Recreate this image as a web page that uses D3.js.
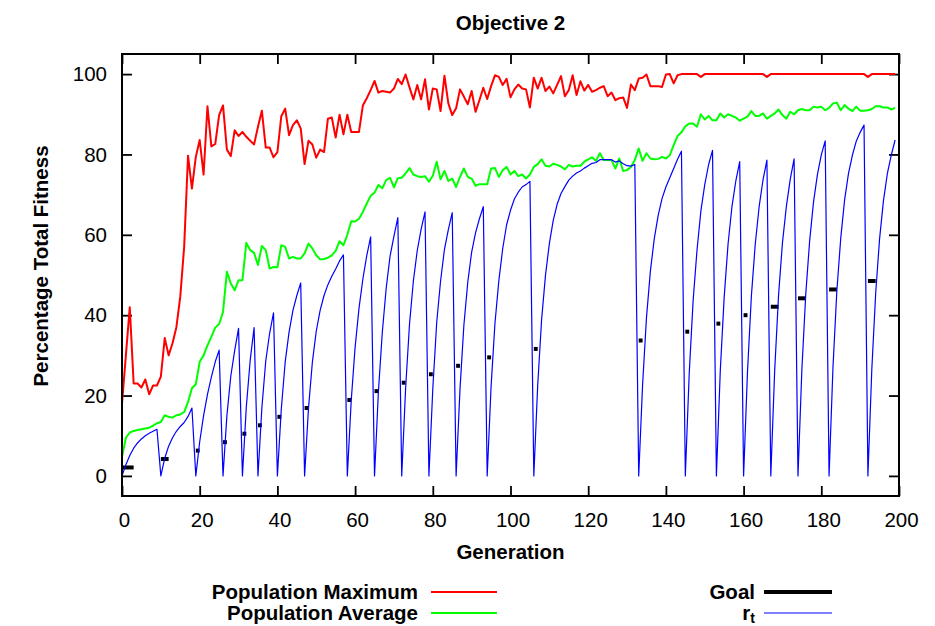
<!DOCTYPE html>
<html>
<head>
<meta charset="utf-8">
<script src="https://cdn.jsdelivr.net/npm/d3@7"></script>
<style>
  html, body { margin: 0; padding: 0; background: #fff; }
  svg { display: block; font-family: "Liberation Sans", Arial, Helvetica, sans-serif; }
</style>
</head>
<body>
<svg id="chart" width="935" height="626"></svg>
<script>
// ---------------- data ----------------
const title = "Objective 2";
const xLabel = "Generation";
const yLabel = "Percentage Total Fitness";
const xTicks = [0, 20, 40, 60, 80, 100, 120, 140, 160, 180, 200];
const yTicks = [0, 20, 40, 60, 80, 100];

const popMax = [
  18, 30, 42, 23, 23, 22, 24, 20.3, 22.5, 22.5,
  24.7, 34.3, 30, 33, 37, 44.6, 57, 79.7, 71.5, 79.4,
  83.6, 75, 92, 82, 82.6, 89.8, 92.2, 81.2, 79.6, 86,
  84.6, 85.6, 84.4, 83.4, 82.5, 86.9, 90.9, 81.7, 81.7, 79.3,
  80.6, 89.5, 91.4, 84.8, 87.3, 88.5, 86.5, 77.6, 83.4, 82.5,
  79.2, 81.2, 80.6, 88.9, 89.2, 84.2, 89.9, 85, 89.9, 85.6,
  85.6, 85.6, 92.2, 94, 96, 98.3, 95.4, 95.8, 95.6, 95.4,
  96.4, 98.8, 97.5, 99.9, 96.7, 93.7, 97.3, 93.7, 98.7, 91.2,
  96.4, 96.2, 90.8, 99.6, 92.7, 89.8, 91.5, 96.2, 94.4, 92.5,
  95.8, 90.6, 93.5, 96.6, 93.8, 97, 99.7, 99.3, 97.3, 98.8,
  94.2, 96.2, 97.4, 96.4, 96.2, 91.7, 99.1, 96.4, 99.1, 95.8,
  96.9, 95.2, 97.3, 99.5, 94.5, 96, 99.7, 94.8, 98.2, 95.9,
  97.3, 95.6, 96, 96.6, 97, 94.5, 95.4, 93.5, 94, 94.2,
  91.6, 97.4, 96, 98.9, 99.1, 99.9, 97, 97, 97, 96.8,
  99.9, 100, 97.7, 99.7, 100, 100, 100, 100, 100, 99.3,
  100, 100, 100, 100, 100, 100, 100, 100, 100, 100,
  100, 100, 100, 100, 100, 100, 99.3, 100, 100, 100,
  100, 100, 100, 100, 100, 100, 100, 100, 100, 100,
  100, 100, 100, 100, 100, 100, 100, 100, 100, 100,
  100, 100, 99.3, 100, 100, 100, 100, 100, 100, 100
];

const popAvg = [
  4.7, 9.5, 10.8, 11.2, 11.4, 11.6, 11.8, 12.0, 12.5, 13.1,
  13.4, 15.1, 14.7, 14.5, 15.1, 15.3, 15.9, 18.4, 21.8, 22.8,
  28.4, 30.0, 32.5, 34.6, 36.9, 37.8, 40.8, 50.8, 47.9, 46.2,
  48.7, 48.7, 58.0, 56.2, 55.5, 52.5, 57.2, 56.2, 51.6, 52.0,
  51.9, 57.4, 57.0, 54.1, 54.5, 54.1, 54.1, 55.4, 57.8, 56.6,
  54.9, 53.9, 54.0, 54.3, 54.9, 56.0, 58.4, 57.4, 60.0, 63.4,
  63.3, 64.0, 65.7, 67.8, 69.7, 70.5, 72.4, 71.6, 73.6, 74.2,
  71.8, 74.1, 74.2, 75.3, 76.6, 75.0, 74.6, 74.4, 74.6, 73.2,
  74.7, 78.2, 73.8, 75.9, 73.4, 74.0, 71.9, 74.4, 76.5, 74.4,
  74.0, 72.2, 72.6, 72.6, 72.6, 76.5, 76.6, 74.4, 76.1, 76.9,
  75.0, 75.9, 74.6, 75.0, 74.0, 75.0, 76.9, 77.6, 78.8, 77.2,
  77.0, 77.7, 77.4, 77.0, 76.3, 77.4, 77.0, 77.2, 77.2, 78.2,
  78.8, 79.3, 78.4, 80.3, 78.6, 78.6, 78.6, 76.5, 79.0, 75.9,
  76.1, 76.9, 78.6, 81.5, 78.4, 80.3, 79.0, 78.8, 78.9, 79.4,
  79.0, 79.8, 82.3, 84.6, 85.5, 87.0, 87.7, 87.7, 86.9, 90.0,
  88.7, 89.6, 88.5, 88.5, 90.2, 89.2, 90.0, 89.6, 89.2, 88.4,
  88.9, 89.4, 90.8, 89.6, 89.6, 90.2, 88.9, 89.6, 90.2, 91.2,
  89.8, 88.9, 90.6, 90.0, 91.0, 91.3, 91.0, 91.0, 91.9, 91.7,
  91.9, 91.0, 91.6, 92.7, 92.9, 91.0, 92.3, 91.4, 90.8, 91.9,
  90.9, 90.9, 91.0, 91.3, 92.0, 92.0, 91.7, 91.7, 91.2, 91.6
];

const rt = [
  0, 2.8, 5.1, 6.9, 8.2, 9.2, 10.0, 10.6, 11.1, 11.6,
  0, 4.4, 7.4, 9.5, 11.1, 12.3, 13.3, 14.8, 16.9, 0,
  8.5, 15.0, 20.3, 24.6, 28.4, 31.3, 0, 15.0, 24.8, 31.2,
  36.7, 0, 17.2, 28.8, 36.9, 0, 16.9, 28.6, 35.5, 40.6,
  0, 16.6, 28.3, 35.8, 41.2, 44.9, 48.0, 0, 16.8, 28.3,
  36.0, 41.2, 44.9, 47.6, 49.7, 51.5, 53.5, 55.0, 0, 18.7,
  32.0, 41.7, 49.0, 54.8, 59.5, 0, 21.0, 35.7, 46.7, 54.7,
  59.7, 64.3, 0, 21.8, 37.7, 48.5, 56.1, 61.4, 65.7, 0,
  21.7, 38.1, 48.5, 56.4, 61.3, 65.5, 0, 21.6, 37.5, 48.2,
  55.7, 60.5, 64.0, 67.0, 0, 22.2, 38.0, 48.6, 56.6, 62.5,
  66.1, 68.9, 70.6, 71.9, 72.5, 73.3, 0, 22.5, 38.8, 49.9,
  57.8, 63.6, 67.6, 70.3, 72.0, 73.6, 74.6, 75.4, 75.9, 76.6,
  77.2, 77.8, 78.0, 78.7, 78.7, 78.7, 78.7, 78.1, 78.4, 77.7,
  77.2, 77.1, 77.5, 0, 22.7, 39.4, 50.9, 59.0, 64.8, 69.0,
  71.9, 74.2, 76.5, 78.8, 80.8, 0, 25.4, 43.5, 56.1, 65.9,
  72.5, 77.5, 81.0, 0, 26.2, 44.5, 57.7, 67.0, 73.4, 78.2,
  0, 25.9, 44.7, 57.7, 67.0, 73.7, 78.6, 0, 26.2, 45.0,
  58.0, 67.0, 73.8, 78.9, 0, 26.5, 45.2, 58.5, 68.2, 75.0,
  79.9, 83.4, 0, 26.9, 46.0, 59.1, 68.7, 75.3, 79.8, 83.3,
  85.5, 87.3, 0, 26.5, 45.5, 59.0, 68.5, 75.2, 79.8, 83.6
];

// goal: short horizontal segments (start generation, end generation, value)
const goalStart = [0, 10, 19, 26, 31, 35, 40, 47, 58, 65, 72, 79, 86, 94, 106, 133, 145, 153, 160, 167, 174, 182, 192];
const goalEnd   = [3, 12, 20, 27, 32, 36, 41, 48, 59, 66, 73, 80, 87, 95, 107, 134, 146, 154, 161, 169, 176, 184, 194];
const goalValue = [2.1, 4.2, 6.3, 8.4, 10.5, 12.6, 14.7, 16.9, 18.9, 21.1, 23.2, 25.3, 27.4, 29.5, 31.6, 33.7, 35.9, 37.9, 40.0, 42.1, 44.2, 46.4, 48.5];

const legendLeft = ["Population Maximum", "Population Average"];
const legendRight = ["Goal", "r"];

// ---------------- chart ----------------
const svg = d3.select("#chart");
const W = 935, H = 626;
const m = { left: 122, right: 899, top: 54, bottom: 496 };

svg.append("rect").attr("width", W).attr("height", H).attr("fill", "#fff");

const x = d3.scaleLinear().domain([0, 200]).range([m.left, m.right]);
const y = d3.scaleLinear().domain([-5, 105]).range([m.bottom, m.top]);

const FS = 20.5;

// axes
const styleAxis = g => {
  g.select(".domain").remove();
  g.selectAll(".tick line").attr("stroke", "#000").attr("stroke-width", 1.8);
  g.selectAll(".tick text").attr("fill", "#000").attr("font-size", FS)
    .attr("font-family", "'Liberation Sans', Arial, sans-serif");
};

svg.append("g").attr("transform", `translate(0,${m.bottom})`)
  .call(d3.axisBottom(x).tickValues(xTicks).tickSizeInner(-10).tickSizeOuter(0).tickPadding(16))
  .call(styleAxis)
  .call(g => g.selectAll(".tick text").attr("dx", 2));

svg.append("g").attr("transform", `translate(0,${m.top})`)
  .call(d3.axisTop(x).tickValues(xTicks).tickSizeInner(-10).tickSizeOuter(0).tickFormat(""))
  .call(styleAxis);

svg.append("g").attr("transform", `translate(${m.left},0)`)
  .call(d3.axisLeft(y).tickValues(yTicks).tickSizeInner(-10).tickSizeOuter(0).tickPadding(15))
  .call(styleAxis);

svg.append("g").attr("transform", `translate(${m.right},0)`)
  .call(d3.axisRight(y).tickValues(yTicks).tickSizeInner(-10).tickSizeOuter(0).tickFormat(""))
  .call(styleAxis);

// series
const line = d3.line().x((d, i) => x(i)).y(d => y(d));

svg.append("path").datum(popMax).attr("d", line)
  .attr("fill", "none").attr("stroke", "#ff0000").attr("stroke-width", 2).attr("stroke-linejoin", "round");

svg.append("path").datum(popAvg).attr("d", line)
  .attr("fill", "none").attr("stroke", "#00ff00").attr("stroke-width", 2).attr("stroke-linejoin", "round");

const goals = goalStart.map((s, i) => ({ s, e: goalEnd[i], v: goalValue[i] }));
svg.append("g").selectAll("line").data(goals).join("line")
  .attr("x1", d => x(d.s)).attr("x2", d => x(d.e))
  .attr("y1", d => y(d.v)).attr("y2", d => y(d.v))
  .attr("stroke", "#000").attr("stroke-width", 4);

svg.append("path").datum(rt).attr("d", line)
  .attr("fill", "none").attr("stroke", "#0000ff").attr("stroke-width", 1.2).attr("stroke-linejoin", "round");

// frame
svg.append("rect")
  .attr("x", m.left).attr("y", m.top)
  .attr("width", m.right - m.left).attr("height", m.bottom - m.top)
  .attr("fill", "none").attr("stroke", "#000").attr("stroke-width", 2);

// titles
svg.append("text").attr("x", (m.left + m.right) / 2).attr("y", 30)
  .attr("text-anchor", "middle").attr("font-size", FS).attr("font-weight", "bold").text(title);

svg.append("text").attr("x", (m.left + m.right) / 2).attr("y", 559)
  .attr("text-anchor", "middle").attr("font-size", FS).attr("font-weight", "bold").text(xLabel);

svg.append("text").attr("transform", "translate(48,266) rotate(-90)")
  .attr("text-anchor", "middle").attr("font-size", FS).attr("font-weight", "bold").text(yLabel);

// legend
const legRows = [599, 620];
const legColors = [["#ff0000", "#00ff00"], ["#000", "#0000ff"]];
const legWidths = [[2, 2], [4, 1.2]];
const legTextX = [418, 755];
const legLineX = [[431, 497], [764, 832]];
const legendTexts = [legendLeft, legendRight];

legendTexts.forEach((col, c) => {
  col.forEach((label, r) => {
    const t = svg.append("text").attr("x", legTextX[c]).attr("y", legRows[r])
      .attr("text-anchor", "end").attr("font-size", FS).attr("font-weight", "bold");
    if (c === 1 && r === 1) {
      t.append("tspan").text(label);
      t.append("tspan").attr("dy", 3).attr("font-size", 14).text("t");
    } else {
      t.text(label);
    }
    svg.append("line")
      .attr("x1", legLineX[c][0]).attr("x2", legLineX[c][1])
      .attr("y1", legRows[r] - 7).attr("y2", legRows[r] - 7)
      .attr("stroke", legColors[c][r]).attr("stroke-width", legWidths[c][r]);
  });
});
</script>
</body>
</html>
